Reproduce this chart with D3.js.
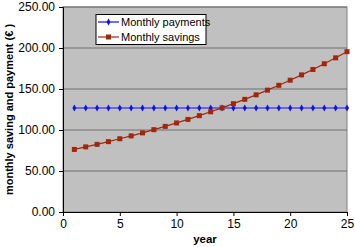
<!DOCTYPE html>
<html>
<head>
<meta charset="utf-8">
<script src="https://cdn.jsdelivr.net/npm/d3@7"></script>
<style>
  body { margin: 0; background: #fff; }
  text { font-family: "Liberation Sans", Arial, sans-serif; }
</style>
</head>
<body>
<script>
const years = d3.range(1, 26);
const payments = years.map(() => 126.8);
const savings = [76.3, 79.4, 82.5, 85.8, 89.3, 92.8, 96.5, 100.4, 104.4, 108.6,
    112.9, 117.5, 122.2, 127.0, 132.1, 137.4, 142.9, 148.6, 154.5, 160.7,
    167.2, 173.8, 180.8, 188.0, 195.5];
const yTicks = [0, 50, 100, 150, 200, 250];
const xTicks = [0, 5, 10, 15, 20, 25];
const seriesNames = ['Monthly payments', 'Monthly savings'];

const width = 355, height = 247;
const margin = {left: 63, right: 8, top: 7, bottom: 35};

const svg = d3.select('body').append('svg')
    .attr('width', width)
    .attr('height', height);

const x = d3.scaleLinear().domain([0, 25]).range([margin.left, width - margin.right]);
const y = d3.scaleLinear().domain([0, 250]).range([height - margin.bottom, margin.top]);

// plot background
svg.append('rect')
    .attr('x', x(0)).attr('y', y(250))
    .attr('width', x(25) - x(0)).attr('height', y(0) - y(250))
    .attr('fill', '#c0c0c0')
    .attr('stroke', '#808080');

// gridlines
svg.append('g')
    .selectAll('line')
    .data(yTicks.filter(d => d > 0))
    .enter().append('line')
    .attr('x1', x(0)).attr('x2', x(25))
    .attr('y1', d => y(d)).attr('y2', d => y(d))
    .attr('stroke', '#6e6e6e')
    .attr('stroke-width', 1);

// axes
const yAxis = svg.append('g')
    .attr('transform', 'translate(' + x(0) + ',0)')
    .call(d3.axisLeft(y).tickValues(yTicks).tickFormat(d3.format('.2f')).tickSize(4).tickPadding(4));
const xAxis = svg.append('g')
    .attr('transform', 'translate(0,' + y(0) + ')')
    .call(d3.axisBottom(x).tickValues(xTicks).tickSize(4).tickPadding(3));
[yAxis, xAxis].forEach(a => {
    a.select('.domain').attr('stroke', '#000');
    a.selectAll('line').attr('stroke', '#000');
    a.selectAll('text').attr('font-size', 12).attr('fill', '#000')
        .style('font-family', '"Liberation Sans", Arial, sans-serif');
});

// axis titles
svg.append('text')
    .attr('transform', 'translate(13,' + ((y(0) + y(250)) / 2) + ') rotate(-90)')
    .attr('text-anchor', 'middle')
    .attr('font-size', 11)
    .attr('font-weight', 'bold')
    .text('monthly saving and payment (€ )');
svg.append('text')
    .attr('x', 205).attr('y', 243)
    .attr('text-anchor', 'middle')
    .attr('font-size', 11.5)
    .attr('font-weight', 'bold')
    .text('year');

const line = d3.line().x((d, i) => x(years[i])).y(d => y(d));
const blue = '#1010f0', red = '#a0260c';

// legend box
svg.append('rect')
    .attr('x', 96).attr('y', 14.5).attr('width', 110).attr('height', 30)
    .attr('fill', '#ffffff')
    .attr('stroke', '#000')
    .attr('stroke-width', 1);

// payments
svg.append('path').datum(payments)
    .attr('d', line).attr('fill', 'none').attr('stroke', blue).attr('stroke-width', 1.2);
svg.append('g').selectAll('path')
    .data(payments).enter().append('path')
    .attr('d', d3.symbol(d3.symbolDiamond, 14))
    .attr('transform', (d, i) => 'translate(' + x(years[i]) + ',' + y(d) + ')')
    .attr('fill', blue);

// savings
svg.append('path').datum(savings)
    .attr('d', line).attr('fill', 'none').attr('stroke', red).attr('stroke-width', 1.2);
svg.append('g').selectAll('rect')
    .data(savings).enter().append('rect')
    .attr('x', (d, i) => x(years[i]) - 2.5)
    .attr('y', d => y(d) - 2.5)
    .attr('width', 5).attr('height', 5)
    .attr('fill', red);

// legend entries
const legend = svg.append('g').attr('class', 'legend');
seriesNames.forEach((name, i) => {
    const ly = 22 + i * 15;
    const c = i === 0 ? blue : red;
    legend.append('line')
        .attr('x1', 98).attr('x2', 119).attr('y1', ly).attr('y2', ly)
        .attr('stroke', c).attr('stroke-width', 1.2);
    if (i === 0) {
        legend.append('path')
            .attr('d', d3.symbol(d3.symbolDiamond, 14))
            .attr('transform', 'translate(108.5,' + ly + ')')
            .attr('fill', c);
    } else {
        legend.append('rect')
            .attr('x', 106).attr('y', ly - 2.5).attr('width', 5).attr('height', 5)
            .attr('fill', c);
    }
    legend.append('text')
        .attr('x', 121).attr('y', ly + 4)
        .attr('font-size', 11)
        .text(name);
});
</script>
</body>
</html>
